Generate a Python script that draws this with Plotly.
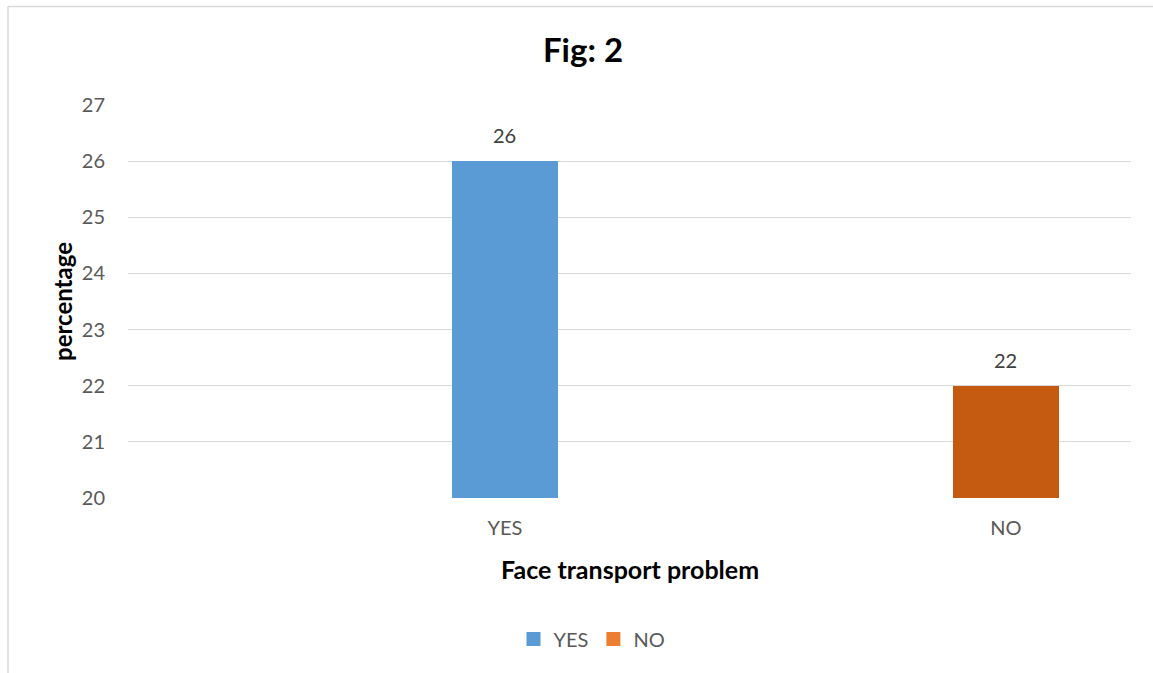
import plotly.graph_objects as go

categories = ["YES", "NO"]
values = [26, 22]
bar_colors = ["#5B9BD5", "#C55A11"]
legend_names = ["YES", "NO"]
legend_colors = ["#5B9BD5", "#ED7D31"]
y_ticks = [20, 21, 22, 23, 24, 25, 26, 27]

W, H = 1153, 673
L, R, T, B = 128, 1131, 105, 498
pw, ph = R - L, B - T

def px_x(x):
    return (x - L) / pw

def px_y(y):
    return (B - y) / ph

fig = go.Figure()
fig.add_trace(go.Bar(
    x=categories, y=values, width=0.2115,
    marker=dict(color=bar_colors, line=dict(width=0)),
    showlegend=False, hoverinfo="x+y",
))
for name, col in zip(legend_names, legend_colors):
    fig.add_trace(go.Scatter(
        x=[None], y=[None], mode="markers", name=name,
        marker=dict(symbol="square", size=14, color=col),
    ))

annotations = [
    dict(text="<b>Face transport problem</b>", xref="paper", yref="paper",
         x=0.5, y=px_y(569), xanchor="center", yanchor="middle", showarrow=False,
         font=dict(family="Lato", size=25, color="#000000")),
    dict(text="<b>percentage</b>", xref="paper", yref="paper", textangle=-90,
         x=px_x(62), y=px_y(302), xanchor="center", yanchor="middle", showarrow=False,
         font=dict(family="Lato", size=24, color="#000000")),
]
for c, v in zip(categories, values):
    annotations.append(dict(text=str(v), x=c, y=v, xref="x", yref="y",
                            xanchor="center", yanchor="middle", yshift=26, showarrow=False,
                            font=dict(family="Lato", size=20, color="#404040")))

fig.update_layout(
    width=W, height=H,
    margin=dict(l=L, r=W - R, t=T, b=H - B, autoexpand=False),
    paper_bgcolor="white", plot_bgcolor="white",
    font=dict(family="Lato", color="#595959", size=20),
    title=dict(text="<b>Fig: 2</b>", x=583 / W, xref="container",
               y=1 - 50 / H, yref="container", xanchor="center", yanchor="middle",
               font=dict(family="Lato", size=33, color="#000000")),
    bargap=0,
    showlegend=True,
    legend=dict(orientation="h", x=px_x(592), y=px_y(639), xanchor="center", yanchor="middle",
                font=dict(family="Lato", size=20, color="#595959"),
                itemwidth=30, tracegroupgap=0, bgcolor="rgba(0,0,0,0)"),
    xaxis=dict(type="category", range=[-0.752, 1.2495], showgrid=False,
               showline=False, ticks="", ticklabelstandoff=16,
               tickfont=dict(family="Lato", size=20, color="#595959"), fixedrange=True),
    yaxis=dict(range=[20, 27], tickvals=y_ticks, showgrid=True, gridcolor="#D9D9D9",
               gridwidth=1, zeroline=False, showline=False, ticks="", ticklabelstandoff=22,
               tickfont=dict(family="Lato", size=20, color="#595959"), fixedrange=True),
    annotations=annotations,
    shapes=[
        dict(type="line", xref="paper", yref="paper", x0=px_x(8), x1=px_x(1153),
             y0=px_y(6.5), y1=px_y(6.5), line=dict(color="#D9D9D9", width=1.5)),
        dict(type="line", xref="paper", yref="paper", x0=px_x(8), x1=px_x(8),
             y0=px_y(6.5), y1=px_y(673), line=dict(color="#D9D9D9", width=1.5)),
    ],
)
fig.write_html("out.html")
